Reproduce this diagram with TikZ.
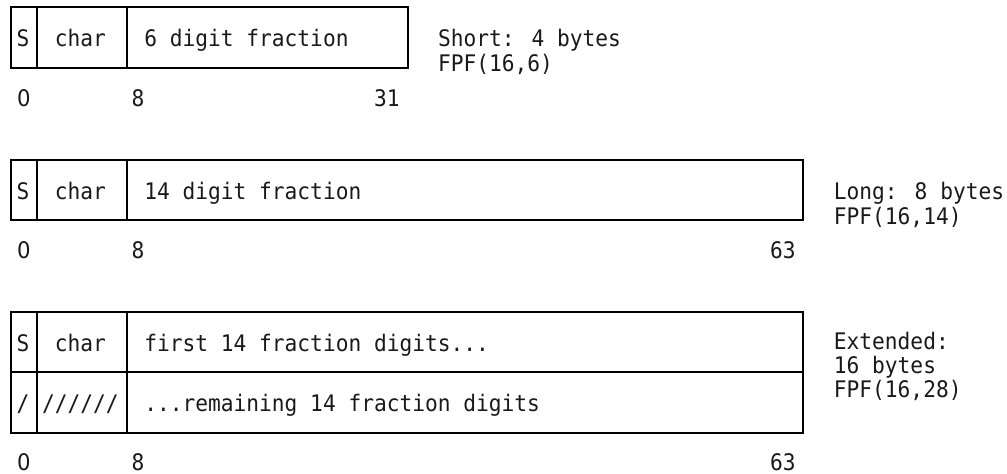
\documentclass[tikz,border=0pt]{standalone}
\usepackage{fontspec}
\newfontfamily\diagmono[FakeStretch=0.93]{DejaVu Sans Mono}
\newfontfamily\diagzero[FakeStretch=0.93]{DejaVu Sans}
\begin{document}
\begin{tikzpicture}[x=1pt,y=-1pt,
  cellbox/.style={draw=black, line width=1.5pt, anchor=north west, inner sep=0pt, minimum width=#1},
  txt/.style={font=\diagmono\fontsize{22.8}{25}\selectfont, inner sep=0pt, text height=16.6pt, text depth=0pt, anchor=west, text=black!90},
  zerotxt/.style={txt, font=\diagzero\fontsize{22.8}{25}\selectfont}
]
\useasboundingbox (0,0) rectangle (1007,474);
% Box 1 (short)
\node[cellbox=26pt, minimum height=61pt] (s1) at (10,6) {};
\node[cellbox=90pt, minimum height=61pt] (c1) at (36,6) {};
\node[cellbox=281pt, minimum height=61pt] (f1) at (126,6) {};
\node[txt] (s1t) at (16.4,38.5) {S};
\node[txt] (c1t) at (54.7,38.5) {char};
\node[txt] (f1t) at (144.1,38.5) {6 digit fraction};
\node[txt] (l1a) at (437.8,38.5) {Short: 4 bytes};
\node[txt] (l1b) at (437.8,63) {FPF(16,6)};
\node[zerotxt] (b1a) at (16.8,98.5) {0};
\node[txt] (b1b) at (131.3,98.5) {8};
\node[txt] (b1c) at (373.9,98.5) {31};
% Box 2 (long)
\node[cellbox=26pt, minimum height=60pt] (s2) at (10,159) {};
\node[cellbox=90pt, minimum height=60pt] (c2) at (36,159) {};
\node[cellbox=676pt, minimum height=60pt] (f2) at (126,159) {};
\node[txt] (s2t) at (16.4,191.5) {S};
\node[txt] (c2t) at (54.7,191.5) {char};
\node[txt] (f2t) at (144.1,191.5) {14 digit fraction};
\node[txt] (l2a) at (833.7,191.5) {Long: 8 bytes};
\node[txt] (l2b) at (833.7,216) {FPF(16,14)};
\node[zerotxt] (b2a) at (16.8,250.5) {0};
\node[txt] (b2b) at (131.3,250.5) {8};
\node[txt] (b2c) at (769.8,250.5) {63};
% Box 3 (extended)
\node[cellbox=26pt, minimum height=60pt] (s3) at (10,311) {};
\node[cellbox=90pt, minimum height=60pt] (c3) at (36,311) {};
\node[cellbox=676pt, minimum height=60pt] (f3) at (126,311) {};
\node[cellbox=26pt, minimum height=61pt] (s4) at (10,371) {};
\node[cellbox=90pt, minimum height=61pt] (c4) at (36,371) {};
\node[cellbox=676pt, minimum height=61pt] (f4) at (126,371) {};
\node[txt] (s3t) at (16.4,343) {S};
\node[txt] (c3t) at (54.7,343) {char};
\node[txt] (f3t) at (144.1,343) {first 14 fraction digits...};
\node[txt] (s4t) at (16.4,403) {/};
\node[txt] (c4t) at (41.9,403) {//////};
\node[txt] (f4t) at (144.1,403) {...remaining 14 fraction digits};
\node[txt] (l3a) at (833.7,341) {Extended:};
\node[txt] (l3b) at (833.7,365) {16 bytes};
\node[txt] (l3c) at (833.7,389) {FPF(16,28)};
\node[zerotxt] (b3a) at (16.8,462) {0};
\node[txt] (b3b) at (131.3,462) {8};
\node[txt] (b3c) at (769.8,462) {63};
\end{tikzpicture}
\end{document}
